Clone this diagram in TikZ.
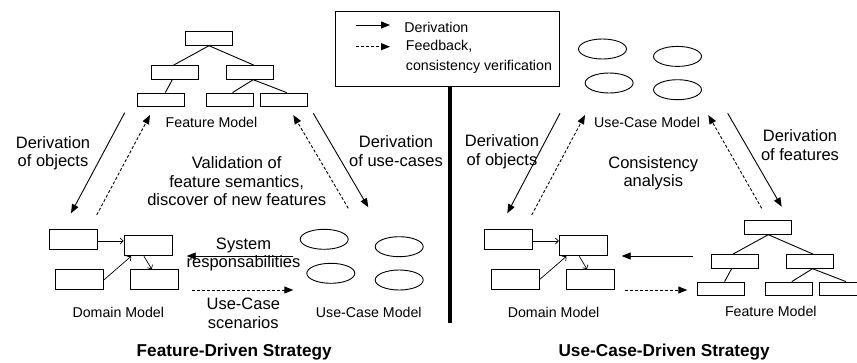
\documentclass[tikz,border=0pt]{standalone}
\usepackage{fontspec}
\setmainfont{Liberation Sans}
\usetikzlibrary{shapes.geometric, arrows.meta}
\begin{document}
\begin{tikzpicture}[x={(1pt,0)}, y={(0,-1pt)}, line width=.9pt]
    \tikzstyle{feat} = [draw, minimum width=47pt, minimum height=13.5pt, inner sep=0];
    \tikzstyle{cls} = [draw, minimum width=48pt, minimum height=20pt, inner sep=0];
    \tikzstyle{usecase} = [draw, ellipse, minimum width=48pt, minimum height=20pt, inner sep=0];
    \tikzstyle{smalltext} = [font=\fontsize{14.2}{19.5}\selectfont, inner sep=0];
    \tikzstyle{bigtext} = [font=\fontsize{16.5}{18.5}\selectfont, align=center, inner sep=0];
    \tikzstyle{heading} = [font=\fontsize{17.2}{19}\bfseries\selectfont, inner sep=0];
    \tikzstyle{deriv} = [-{Triangle[length=9pt, width=7pt]}];
    \tikzstyle{feedback} = [deriv, dash pattern=on 3pt off 2pt];
    \tikzstyle{assoc} = [-{Straight Barb[length=3pt, width=6pt]}, line width=.7pt];
    \clip (0,0) rectangle (857,362);
    \foreach \m/\dx/\dy in {fl/0/0, fr/559.3/189}
    {
    \begin{scope}[shift={(\dx,\dy)}]
        \node[feat] (\m0) at (209,38.5) {};
        \node[feat] (\m1) at (175.3,72.5) {};
        \node[feat] (\m2) at (250.2,72.5) {};
        \node[feat] (\m3) at (161.3,99.8) {};
        \node[feat] (\m4) at (229.5,99.8) {};
        \node[feat] (\m5) at (283.7,99.8) {};
        \node[smalltext] (\m-name) at (211.5,122.6) {Feature Model};
        \draw (\m0.south) -- ([xshift=-2pt]\m1.north);
        \draw (\m0.south) -- ([xshift=4pt]\m2.north);
        \draw ([xshift=-3pt]\m1.south) -- ([xshift=4pt]\m3.north);
        \draw ([xshift=3pt]\m2.south) -- ([xshift=3pt]\m4.north);
        \draw ([xshift=3pt]\m2.south) -- ([xshift=3pt]\m5.north);
    \end{scope}
    }
    \foreach \m/\dx in {dl/0, dr/435.3}
    {
    \begin{scope}[shift={(\dx,0)}]
        \node[cls] (\m-a) at (73.3,239) {};
        \node[cls] (\m-b) at (148,245.8) {};
        \node[cls] (\m-c) at (79.7,279.7) {};
        \node[cls] (\m-d) at (154.7,279.7) {};
        \node[smalltext] (\m-name) at (118.3,312.7) {Domain Model};
        \draw[assoc] ([yshift=-2pt]\m-a.east) -- ([yshift=4.8pt]\m-b.west);
        \draw[assoc] ([xshift=-4pt]\m-b.south) -- ([xshift=-3pt]\m-d.north);
        \draw[assoc] (\m-c.east) -- ([xshift=7.6pt]\m-b.south west);
    \end{scope}
    }
    \foreach \m/\dx/\dy in {ul/0/0, ur/278.3/-190.3}
    {
    \begin{scope}[shift={(\dx,\dy)}]
        \node[usecase] (\m-1) at (324.2,239.3) {};
        \node[usecase] (\m-2) at (399.2,246.7) {};
        \node[usecase] (\m-3) at (330.8,273.3) {};
        \node[usecase] (\m-4) at (399.2,280) {};
        \node[smalltext] (\m-name) at (368.8,312.7) {Use-Case Model};
    \end{scope}
    }
    \foreach \n/\a/\b/\s in {objl/{124.7,112.7}/{71,213.3}/deriv,
        fbl1/{96.7,215}/{150,115}/feedback,
        fbl2/{348.3,208.3}/{293.3,115}/feedback,
        ucl/{313.3,113.3}/{368.3,207.3}/deriv,
        resp/{293.3,256}/{186.7,256}/deriv,
        scen/{191.7,290}/{293.3,290}/feedback,
        objr/{560,113.3}/{507.3,213.3}/deriv,
        fbr1/{531.7,215}/{585,115}/feedback,
        fbr2/{761.7,208.3}/{708.3,115}/feedback,
        featr/{727.7,113.3}/{781.7,206.7}/deriv,
        fmdm/{693.3,256}/{621.7,256}/deriv,
        dmfm/{625,290}/{687.3,290}/feedback,
        legd/{356,25}/{390,25}/deriv,
        legf/{356,46.7}/{390,46.7}/feedback}
    {
    \coordinate (\n-from) at (\a);
    \coordinate (\n-to) at (\b);
    \draw[\s] (\n-from) -- (\n-to);
    }
    \node[bigtext] (objl-txt) at (53,153) {Derivation\\of objects};
    \node[bigtext] (valid-txt) at (236.7,181.5) {Validation of\\feature semantics,\\discover of new features};
    \node[bigtext] (ucl-txt) at (396,151) {Derivation\\of use-cases};
    \node[bigtext] (resp-txt) at (243.5,254.5) {System\\responsabilities};
    \node[bigtext] (scen-txt) at (243.3,313.5) {Use-Case\\scenarios};
    \node[bigtext] (objr-txt) at (502,151.5) {Derivation\\of objects};
    \node[bigtext] (cons-txt) at (653.3,173) {Consistency\\analysis};
    \node[bigtext] (featr-txt) at (800,145.3) {Derivation\\of features};
    \node[heading] (fd-title) at (234.2,351.7) {Feature-Driven Strategy};
    \node[heading] (ud-title) at (664.2,351.7) {Use-Case-Driven Strategy};
    \node[draw, minimum width=224pt, minimum height=74.3pt, inner sep=0] (legend) at (447.7,48.85) {};
    \node[smalltext, anchor=west] (leg-deriv) at (404,27) {Derivation};
    \node[smalltext, anchor=north west, align=left] (leg-feed) at (405.5,40) {Feedback,\\consistency verification};
    \coordinate (sep-end) at (450,323.3);
    \draw[line width=3.5pt] (legend.south -| sep-end) -- (sep-end);
\end{tikzpicture}
\end{document}
